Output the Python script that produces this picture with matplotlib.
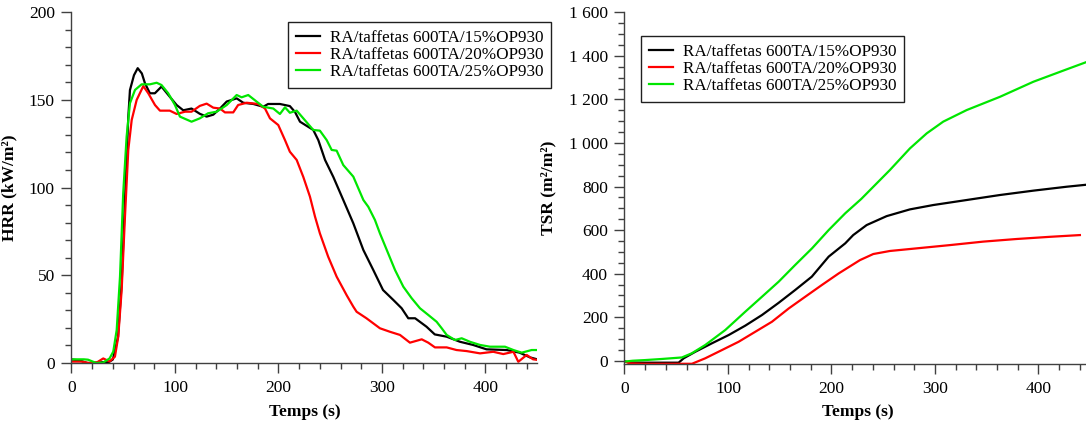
import matplotlib
matplotlib.use("Agg")
import matplotlib.pyplot as plt
from matplotlib.ticker import MultipleLocator, FuncFormatter

plt.rcParams['font.family'] = ['Liberation Serif', 'DejaVu Serif']

labels = ['RA/taffetas 600TA/15%OP930',
          'RA/taffetas 600TA/20%OP930',
          'RA/taffetas 600TA/25%OP930']
colors = ['#000000', '#ff0000', '#00e600']

# HRR data (kW/m2)
black_t = [0, 8, 15, 22, 30, 36, 40, 45, 48.5, 51.7, 54.9, 56.5, 60.4, 64, 68, 71,
           75.8, 80.6, 87, 95, 101.6, 108, 116, 124, 130.6, 137, 143.5, 150, 159.6,
           166, 175.7, 185.3, 190, 201.4, 211, 216, 220.8, 233.6, 238.5, 245, 253,
           262.6, 272.3, 282, 291.6, 301, 311, 319, 325.4, 332, 343, 351, 362.5,
           375.4, 388, 401, 420.5, 433, 443, 450]
black_hrr = [2, 1.5, 0, 0, 0.5, 0.5, 2, 15, 45.5, 93, 140, 155.5, 164, 168, 165, 159.4,
             153.7, 153.7, 157.5, 151.7, 147, 144, 145, 142, 140.4, 141.5, 145, 149, 150.8,
             148.3, 147.6, 146, 147.6, 147.6, 146.4, 143, 137.5, 132.8, 127, 115.7, 106,
             92.9, 79.6, 64.4, 53, 41.6, 35.9, 31.2, 25.5, 25.5, 20.7, 16.3, 15,
             12.1, 10.3, 7.8, 7.4, 5.9, 3.2, 2.1]

red_t = [0, 10, 17, 25, 30.7, 36.8, 42, 45.2, 48.5, 51.7, 54.9, 58.2, 63, 69.4, 74.2,
         80.7, 85.5, 95, 101.6, 109.7, 116, 124, 130.6, 137, 143.5, 148.3, 156.3, 161,
         169.3, 180.5, 187, 191.8, 199.8, 206.3, 211, 217.6, 224, 230.4, 235.3, 240, 248,
         256.2, 266, 272.3, 275.5, 285, 298, 307.7, 317.4, 327, 338.4, 344.7, 351.2,
         362.5, 372, 381.8, 394.7, 407.5, 417.2, 427, 431.7, 439.8, 446, 450]
red_hrr = [0.8, 0.8, 0, 0.5, 2.6, 0.9, 3.6, 15, 41.6, 83.4, 121.4, 138.5, 149.9, 157.8, 153.7,
           147, 143.8, 143.8, 141.9, 143.2, 143.2, 146.5, 147.8, 145.5, 145, 142.8, 142.8, 147,
           148.3, 147.6, 145, 139.4, 135.6, 127, 120.4, 115.7, 106, 94.8, 83.4, 73.9, 60.6,
           49.2, 38.5, 32.1, 29.2, 25.5, 19.8, 17.8, 16, 11.6, 13.5, 11.6, 8.9,
           8.9, 7.4, 6.8, 5.5, 6.4, 5.1, 6.4, 0.7, 4.6, 2.1, 1.8]

green_t = [0, 12, 16, 24, 30.7, 36.8, 40.4, 43.7, 46.9, 50, 53.3, 56.5, 61.4, 67.8, 75.8,
           82.3, 87, 93.5, 100, 104.8, 116, 124, 132, 140.3, 150, 159.6, 164.4, 170.8, 179,
           185.3, 195, 201.4, 206.3, 211, 217.6, 224, 233.6, 240, 246.6, 251.4, 256.2,
           262.6, 272.3, 282, 286.8, 293.2, 298, 312.6, 320.6, 328.7, 336.7, 344.7, 352.8,
           357.7, 362.5, 370.5, 377, 385, 394.7, 404.3, 418.8, 427, 435, 444.6, 450]
green_hrr = [2.1, 2.1, 1.9, 0, 0.3, 2.6, 6.5, 18.8, 49.2, 96.7, 129, 148, 155.6, 158.8, 158.8,
             159.7, 158.4, 153.7, 147, 140.4, 137.5, 139.4, 142.3, 143.2, 147, 152.7, 151.4, 152.7, 148.9,
             146, 145, 141.9, 145.7, 142.6, 143.8, 139.4, 132.8, 132.4, 127, 121.4, 121,
             112.8, 106.2, 92.9, 89, 81.5, 73.9, 53, 43.5, 36.9, 31.2, 27.4, 23.5,
             19.8, 16, 13.1, 14.1, 12.1, 10.3, 9.3, 9.3, 7.4, 5.9, 7.4, 7.4]

# TSR data (m2/m2)
black_tsr_t = [0, 5, 20, 40, 52.3, 57.2, 68.4, 84.5, 100.7, 116.7, 132.9, 149, 165, 181,
               197.3, 213.3, 221, 234, 253.3, 275.8, 298.4, 330.6, 362.8, 395, 427.2, 450]
black_tsr = [-3, -8, -9, -9, -9, 11, 41, 80, 118, 161, 210, 266, 325, 386,
             478, 539, 577, 623, 664, 695, 715, 738, 761, 781, 799, 810]

red_tsr_t = [0, 5, 20, 40, 65.2, 78, 94.2, 110.3, 126.4, 142.5, 158.7, 174.7, 190.8, 207,
             227.5, 240.4, 256.5, 282.3, 314.5, 346.7, 378.9, 411, 440]
red_tsr = [-3, -12, -14, -14, -14, 11, 49, 87, 133, 179, 240, 294, 348, 401,
           462, 490, 504, 516, 531, 547, 559, 569, 577]

green_tsr_t = [0, 8, 20, 36, 55.5, 65, 78, 97.4, 116.7, 132.9, 149, 165, 181.2, 197.3,
               213.3, 228.8, 256.5, 275.8, 292, 308, 330.6, 362.8, 395, 427.2, 450]
green_tsr = [-4, 0, 3, 8, 15, 34, 72, 141, 225, 294, 363, 440, 516, 600,
             677, 743, 876, 975, 1044, 1098, 1151, 1212, 1281, 1338, 1378]

fig = plt.figure(figsize=(10.86, 4.23), dpi=100)
ax1 = fig.add_axes([0.0658, 0.1418, 0.4289, 0.8298])
ax2 = fig.add_axes([0.575, 0.1395, 0.4289, 0.8314])

hrr = [(black_t, black_hrr), (red_t, red_hrr), (green_t, green_hrr)]
tsr = [(black_tsr_t, black_tsr), (red_tsr_t, red_tsr), (green_tsr_t, green_tsr)]

for (t, v), c, lab in zip(hrr, colors, labels):
    ax1.plot(t, v, color=c, lw=1.6, label=lab)
for (t, v), c, lab in zip(tsr, colors, labels):
    ax2.plot(t, v, color=c, lw=1.6, label=lab)

ax1.set_xlim(0, 450)
ax1.set_ylim(0, 200)
ax1.yaxis.set_major_locator(MultipleLocator(50))
ax1.yaxis.set_minor_locator(MultipleLocator(10))

ax2.set_xlim(0, 450)
ax2.set_ylim(-15, 1600)
ax2.yaxis.set_major_locator(MultipleLocator(200))
ax2.yaxis.set_minor_locator(MultipleLocator(50))
ax2.yaxis.set_major_formatter(FuncFormatter(lambda v, p: f"{int(v):,}".replace(",", " ")))

for ax in (ax1, ax2):
    ax.xaxis.set_major_locator(MultipleLocator(100))
    ax.xaxis.set_minor_locator(MultipleLocator(20))
    for s in ('top', 'right'):
        ax.spines[s].set_visible(False)
    for s in ('left', 'bottom'):
        ax.spines[s].set_color('#404040')
        ax.spines[s].set_linewidth(1.0)
    ax.tick_params(which='major', direction='out', length=7, width=1, color='#404040',
                   labelsize=12.5, pad=5)
    ax.tick_params(which='minor', direction='out', length=4, width=1, color='#404040')
    ax.set_xlabel('Temps (s)', fontsize=12.5, fontweight='bold')

ax1.set_ylabel('HRR (kW/m²)', fontsize=12.5, fontweight='bold')
ax2.set_ylabel('TSR (m²/m²)', fontsize=12.5, fontweight='bold')
ax1.yaxis.set_label_coords(-0.117, 0.5)
ax2.yaxis.set_label_coords(-0.147, 0.5)
ax1.xaxis.set_label_coords(0.5, -0.118)
ax2.xaxis.set_label_coords(0.5, -0.115)

leg_kw = dict(loc='upper left', fontsize=12.3, fancybox=False, framealpha=1,
              edgecolor='#202020', handlelength=1.4, handletextpad=0.6,
              borderaxespad=0, labelspacing=0.08, borderpad=0.45)
l1 = ax1.legend(bbox_to_anchor=(0.2652, 0.948), bbox_transform=fig.transFigure, **leg_kw)
l2 = ax2.legend(bbox_to_anchor=(0.5902, 0.9149), bbox_transform=fig.transFigure, **leg_kw)
for l in (l1, l2):
    l.get_frame().set_linewidth(1.0)

fig.savefig('out.png', dpi=100)
